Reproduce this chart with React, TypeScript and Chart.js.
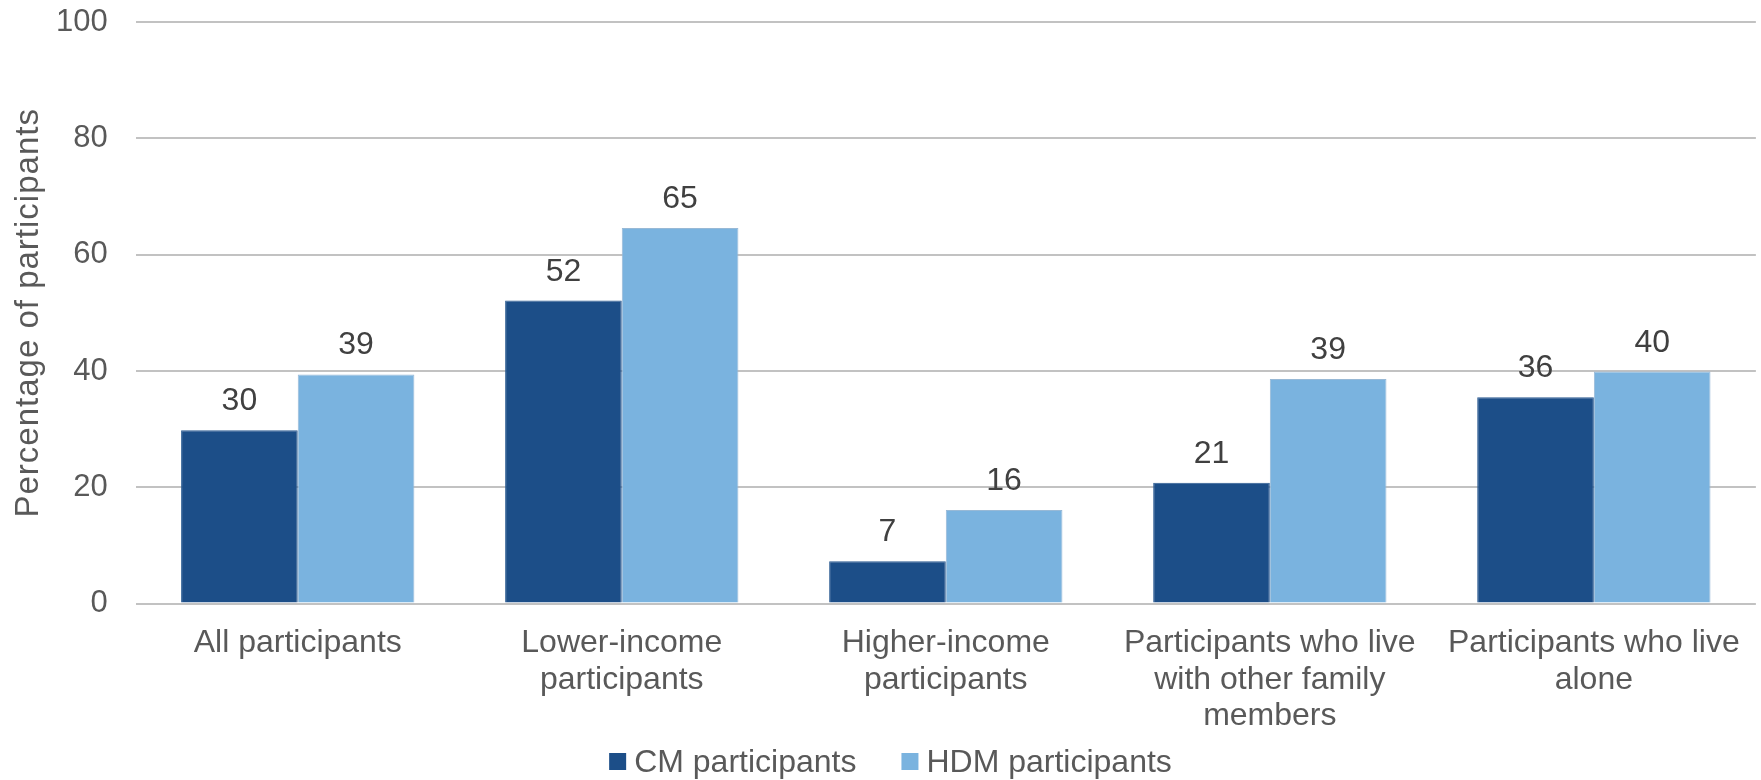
import React, { useEffect, useRef } from "react";
import { Chart, registerables } from "chart.js";

Chart.register(...registerables);

const categories: (string | string[])[] = [
  "All participants",
  ["Lower-income", "participants"],
  ["Higher-income", "participants"],
  ["Participants who live", "with other family", "members"],
  ["Participants who live", "alone"],
];
const cmValues = [29.8, 52.1, 7.3, 20.8, 35.5];
const hdmValues = [39.4, 64.6, 16.1, 38.6, 39.9];
const seriesNames = ["CM participants", "HDM participants"];
const seriesColors = ["#1c4e88", "#7ab3df"];
const yTicks = [0, 20, 40, 60, 80, 100];
const yTitle = "Percentage of participants";

const FONT = "'Liberation Sans', Arial, sans-serif";
const TEXT = "#595959";

const valueLabels = {
  id: "valueLabels",
  afterDatasetsDraw(chart: any) {
    const ctx = chart.ctx;
    ctx.save();
    ctx.font = `32px ${FONT}`;
    ctx.fillStyle = "#404040";
    ctx.textAlign = "center";
    ctx.textBaseline = "alphabetic";
    chart.data.datasets.forEach((ds: any, di: number) => {
      const meta = chart.getDatasetMeta(di);
      meta.data.forEach((el: any, i: number) => {
        const v = ds.data[i];
        ctx.fillText(String(Math.round(v)), el.x, el.y - 20);
      });
    });
    ctx.restore();
  },
};

const yTitlePlugin = {
  id: "yTitlePlugin",
  afterDraw(chart: any) {
    const ctx = chart.ctx;
    const area = chart.chartArea;
    ctx.save();
    ctx.font = `33px ${FONT}`;
    (ctx as any).letterSpacing = "1px";
    ctx.fillStyle = TEXT;
    ctx.textAlign = "center";
    ctx.textBaseline = "alphabetic";
    ctx.translate(38, (area.top + area.bottom) / 2);
    ctx.rotate(-Math.PI / 2);
    ctx.fillText(yTitle, 0, 0);
    ctx.restore();
  },
};

const legendPlugin = {
  id: "customLegend",
  afterDraw(chart: any) {
    const ctx = chart.ctx;
    ctx.save();
    ctx.font = `32px ${FONT}`;
    const box = 17;
    const gap = 8;
    const itemGap = 45;
    const items = chart.data.datasets.map((ds: any) => ({
      text: ds.label,
      color: ds.backgroundColor,
      w: box + gap + ctx.measureText(ds.label).width,
    }));
    const total =
      items.reduce((s: number, it: any) => s + it.w, 0) + itemGap * (items.length - 1);
    let x = (chart.width - total) / 2 + 10;
    const baseline = 772;
    items.forEach((it: any) => {
      ctx.fillStyle = it.color;
      ctx.fillRect(x, baseline - 19, box, box);
      ctx.fillStyle = TEXT;
      ctx.textAlign = "left";
      ctx.textBaseline = "alphabetic";
      ctx.fillText(it.text, x + box + gap, baseline);
      x += it.w + itemGap;
    });
    ctx.restore();
  },
};

export default function App() {
  const ref = useRef<HTMLCanvasElement>(null);
  useEffect(() => {
    document.body.style.margin = "0";
    const chart = new Chart(ref.current!, {
      type: "bar",
      data: {
        labels: categories as any,
        datasets: [
          {
            label: seriesNames[0],
            data: cmValues,
            backgroundColor: seriesColors[0],
            borderColor: "#2b5b92",
            borderWidth: 1,
            categoryPercentage: 0.72,
            barPercentage: 1,
          },
          {
            label: seriesNames[1],
            data: hdmValues,
            backgroundColor: seriesColors[1],
            borderColor: "#98b9d6",
            borderWidth: 1,
            categoryPercentage: 0.72,
            barPercentage: 1,
          },
        ],
      },
      options: {
        animation: false,
        responsive: false,
        maintainAspectRatio: false,
        layout: { padding: { left: 28, right: 3, top: 3, bottom: 24 } },
        plugins: {
          legend: { display: false },
          tooltip: { enabled: false },
        },
        scales: {
          x: {
            grid: { display: false, drawTicks: false },
            border: { display: false },
            ticks: {
              font: { family: FONT, size: 32, lineHeight: 1.15 },
              color: TEXT,
              padding: 21,
              maxRotation: 0,
              autoSkip: false,
            },
          },
          y: {
            min: 0,
            max: 100,
            afterBuildTicks: (axis: any) => {
              axis.ticks = yTicks.map((v) => ({ value: v }));
            },
            afterFit: (scale: any) => {
              scale.paddingTop = 22;
            },
            grid: { color: "#c2c2c2", lineWidth: 2, drawTicks: false },
            border: { display: false },
            ticks: {
              font: { family: FONT, size: 31 },
              color: TEXT,
              padding: 28,
            },
          },
        },
      },
      plugins: [valueLabels, yTitlePlugin, legendPlugin],
    });
    return () => chart.destroy();
  }, []);
  return (
    <div style={{ width: 1761, height: 780, background: "#fff" }}>
      <canvas ref={ref} width={1761} height={780} style={{ display: "block" }} />
    </div>
  );
}
